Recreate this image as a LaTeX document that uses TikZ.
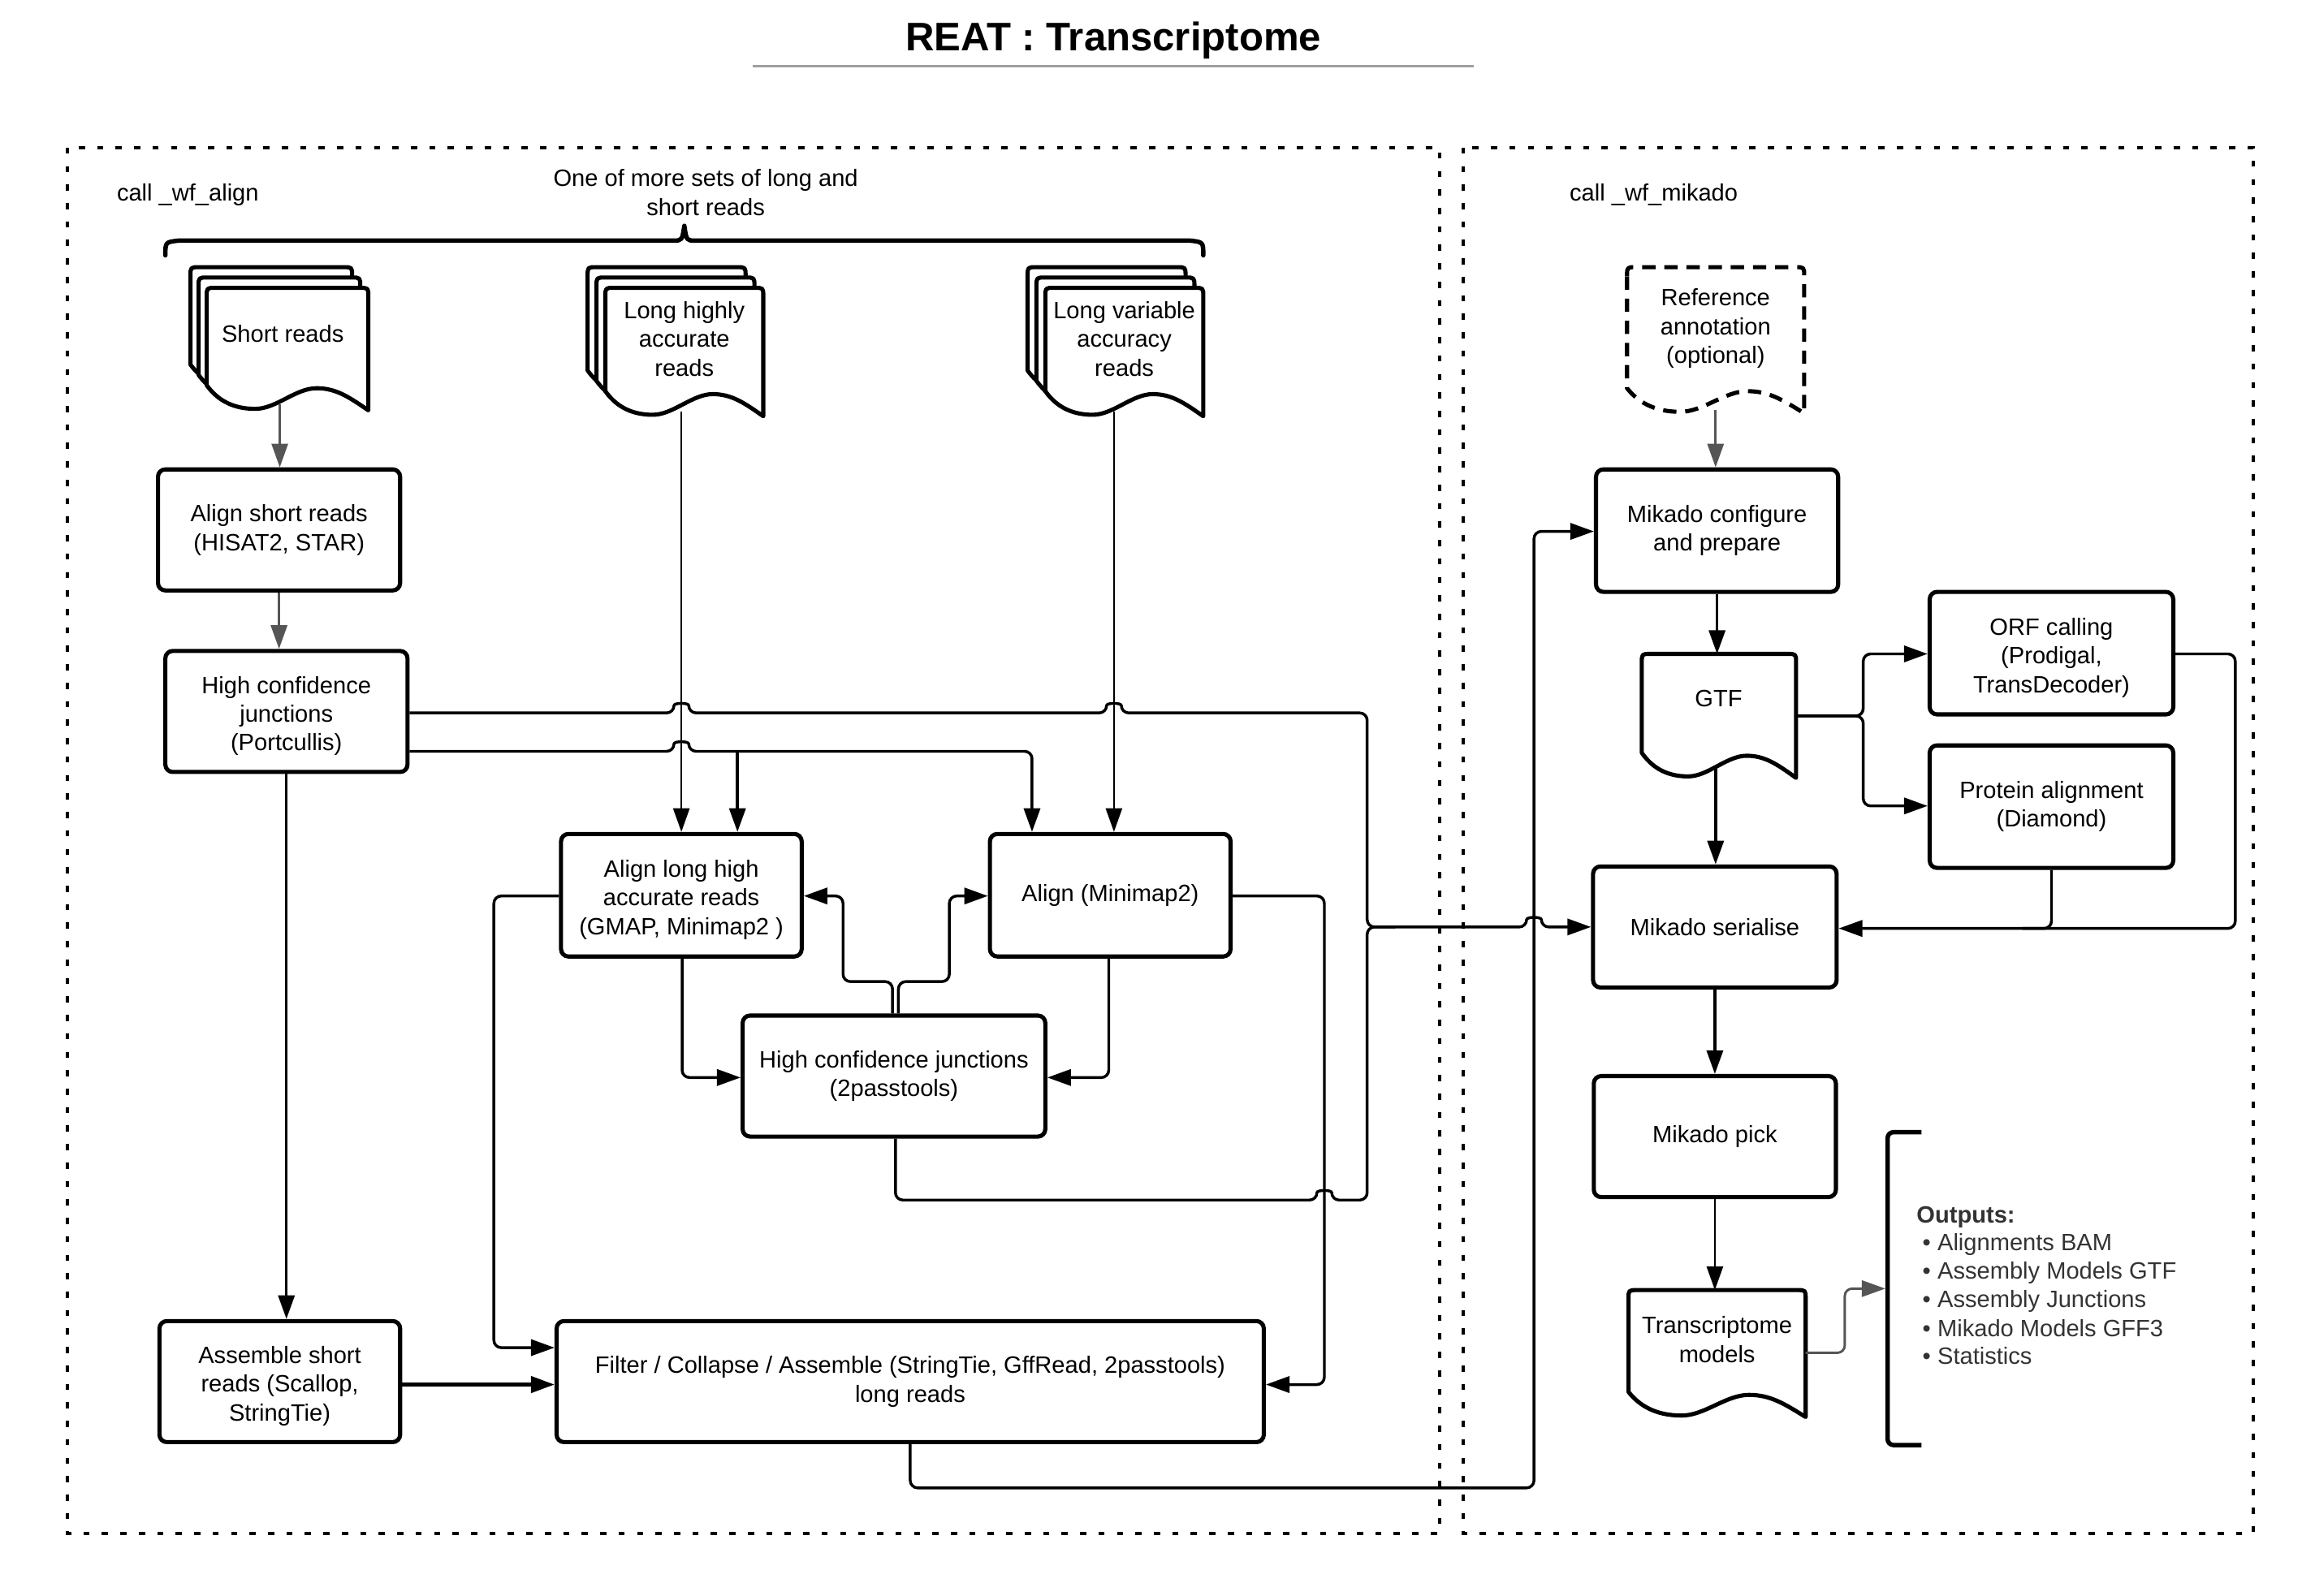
\documentclass[tikz,border=0pt]{standalone}
\usepackage{fontspec}
\setmainfont{Liberation Sans}
\usetikzlibrary{arrows.meta}
\definecolor{lgray}{HTML}{555555}
\definecolor{txtgray}{HTML}{333333}
\newcommand{\fs}{\fontsize{16}{19.5}\selectfont}
\newcommand{\tallfirst}{\rule{0pt}{17.7pt}}
% document shape: [style] L T R B
\newcommand{\docshape}[5][]{%
  \draw[docst,#1] ({#2},{#3+6}) .. controls ({#2},{#3}) .. ({#2+6},{#3}) -- ({#4-6},{#3}) .. controls ({#4},{#3}) .. ({#4},{#3+6}) -- ({#4},{#5})
   .. controls ({#4-0.12*(#4-#2)},{#5-9}) and ({#2+0.80*(#4-#2)},{#5-15}) .. ({#2+0.68*(#4-#2)},{#5-15})
   .. controls ({#2+0.55*(#4-#2)},{#5-15}) and ({#2+0.43*(#4-#2)},{#5-1}) .. ({#2+0.30*(#4-#2)},{#5-1})
   .. controls ({#2+0.15*(#4-#2)},{#5-1}) and ({#2+0.06*(#4-#2)},{#5-8}) .. ({#2},{#5-17}) -- cycle;}
\begin{document}
\begin{tikzpicture}[x=1pt,y=-1pt,font=\fs,
  box/.style={draw, line width=2.8pt, rounded corners=5pt, fill=white, align=center, inner sep=0pt},
  docst/.style={draw, line width=2.8pt, fill=white, line join=round},
  txt/.style={align=center, inner sep=0pt},
  conn/.style={line width=1.9pt, rounded corners=5pt, -{Triangle[length=16pt,width=11pt]}},
  plainline/.style={line width=1.9pt, rounded corners=5pt},
  thinl/.style={line width=1.4pt},
  gconn/.style={conn, draw=lgray, line width=1.6pt},
  border/.style={line width=2.2pt, dash pattern=on 4.2pt off 8.3pt}]
\useasboundingbox (0,0) rectangle (1568,1081);

% title
\node[inner sep=0pt] (title) at (754,27.5) {\fontsize{27}{32}\selectfont\bfseries REAT : Transcriptome};
\coordinate (ul1) at (510,45);
\coordinate (ul2) at (998,45);
\draw[gray!75, line width=1.5pt] (ul1) -- (ul2);

% dotted frames
\draw[border] (45.5,100) rectangle (975,1039);
\draw[border] (991,100) rectangle (1526,1039);
\node[anchor=west, inner sep=0pt] (lalign) at (79,132) {call \_wf\_align};
\node[anchor=west, inner sep=0pt] (lmik) at (1063,132) {call \_wf\_mikado};
\node[txt] (sets) at (478,130.5) {One of more sets of long and\\short reads};

% brace
\draw[line width=3pt, line cap=round, line join=round] (112,173) .. controls (112,164) .. (121,163) -- (456,163) .. controls (462,163) .. (463.5,153) .. controls (465,163) .. (471,163) -- (806,163) .. controls (815,164) .. (815,173);

% document stacks
\docshape{129}{181}{238.5}{264}
\docshape{134.5}{188}{244}{271}
\docshape{140}{195}{249.5}{278}
\node[txt] (sr) at (191.5,226) {Short reads};
\coordinate (srout) at (189.5,274);

\docshape{398}{181}{505}{268}
\docshape{404}{188}{511}{275}
\docshape{410}{195}{517}{282}
\node[txt] (lh) at (463.5,229.5) {Long highly\\accurate\\reads};
\coordinate (lhout) at (461.5,279);

\docshape{696}{181}{803}{268}
\docshape{702}{188}{809}{275}
\docshape{708}{195}{815}{282}
\node[txt] (lv) at (761.5,229.5) {Long variable\\accuracy\\reads};
\coordinate (lvout) at (754.5,279);

\docshape[dash pattern=on 9pt off 6pt]{1102}{181}{1222}{280}
\node[txt] (ra) at (1162,222.5) {Reference\\annotation\\(optional)};
\coordinate (raout) at (1162,278);

\docshape{1112}{443}{1216.5}{527}
\node[txt] (gtf) at (1164,473) {GTF};
\coordinate (gtfout) at (1162,520);
\coordinate (gtfr) at (1216.5,485);

\docshape{1103}{874}{1223}{960}
\node[txt] (tm) at (1163,907.5) {Transcriptome\\models};
\coordinate (tmr) at (1223,916.5);

% boxes
\node[box, minimum width=164pt, minimum height=82pt] (asr) at (189,359) {Align short reads\\(HISAT2, STAR)};
\node[box, minimum width=164pt, minimum height=82pt] (pc) at (194,482) {\tallfirst High confidence\\junctions\\(Portcullis)};
\node[box, minimum width=163pt, minimum height=82pt] (ass) at (189.5,936) {\tallfirst Assemble short\\reads (Scallop,\\StringTie)};
\node[box, minimum width=163pt, minimum height=83pt] (alh) at (461.5,606.5) {\tallfirst Align long high\\accurate reads\\(GMAP, Minimap2 )};
\node[box, minimum width=163pt, minimum height=83pt] (amm) at (752,606.5) {Align (Minimap2)};
\node[box, minimum width=205pt, minimum height=82pt] (tp) at (605.5,729) {High confidence junctions\\(2passtools)};
\node[box, minimum width=479pt, minimum height=82pt] (fca) at (616.5,936) {Filter / Collapse / Assemble (StringTie, GffRead, 2passtools)\\long reads};
\node[box, minimum width=164pt, minimum height=83pt] (mcp) at (1163,359.5) {Mikado configure\\and prepare};
\node[box, minimum width=165pt, minimum height=83pt] (orf) at (1389.5,442.5) {\tallfirst ORF calling\\(Prodigal,\\TransDecoder)};
\node[box, minimum width=165pt, minimum height=83pt] (prot) at (1389.5,546.5) {Protein alignment\\(Diamond)};
\node[box, minimum width=165pt, minimum height=82pt] (ms) at (1161.5,628) {Mikado serialise};
\node[box, minimum width=164pt, minimum height=82pt] (mp) at (1161.5,770) {Mikado pick};

% gray connectors
\draw[gconn] (srout) -- (srout |- asr.north);
\draw[gconn] (189,0 |- asr.south) -- (189,0 |- pc.north);
\draw[gconn] (raout) -- (raout |- mcp.north);
\coordinate (brk) at (1277,873);
\draw[gconn] (tmr) -- (1249.5,916.5) -- (1249.5,873) -- (brk);

% black connectors
\draw[conn, thinl] (lhout) -- (lhout |- alh.north);
\draw[conn, thinl] (lvout) -- (lvout |- amm.north);
\draw[conn] (pc.east |- 0,483) -- (456.5,483) .. controls (456.5,476) and (466.5,476) .. (466.5,483) -- (749.5,483) .. controls (749.5,476) and (759.5,476) .. (759.5,483) -- (926,483) -- (926,628) -- (1034,628) .. controls (1034,621) and (1044,621) .. (1044,628) -- (ms.west);
\draw[conn] (pc.east |- 0,509) -- (456.5,509) .. controls (456.5,502) and (466.5,502) .. (466.5,509) -- (699,509) -- (699,0 |- amm.north);
\draw[conn] (499.5,509) -- (499.5,0 |- alh.north);
\draw[conn] (194,0 |- pc.south) -- (194,0 |- ass.north);
\draw[conn] (604.5,0 |- tp.north) -- (604.5,665) -- (571,665) -- (571,607) -- (alh.east |- 0,607);
\draw[conn] (608.5,0 |- tp.north) -- (608.5,665) -- (643,665) -- (643,607) -- (amm.west |- 0,607);
\draw[conn] (462,0 |- alh.south) -- (462,730) -- (tp.west |- 0,730);
\draw[conn] (751,0 |- amm.south) -- (751,730) -- (tp.east |- 0,730);
\draw[conn] (alh.west |- 0,607) -- (334.5,607) -- (334.5,913) -- (fca.west |- 0,913);
\draw[conn] (amm.east |- 0,607) -- (897,607) -- (897,938) -- (fca.east |- 0,938);
\draw[plainline] (606.5,0 |- tp.south) -- (606.5,813) -- (892,813) .. controls (892,806) and (902,806) .. (902,813) -- (926,813) -- (926,628) -- (945,628);
\draw[conn, line width=2.5pt] (ass.east |- 0,938) -- (fca.west |- 0,938);
\draw[conn] (fca.south) -- (fca.south |- 0,1008) -- (1039,1008) -- (1039,360) -- (mcp.west |- 0,360);
\draw[conn] (mcp.south) -- (mcp.south |- 0,443);
\draw[conn] (gtfout) -- (gtfout |- ms.north);
\draw[conn] (gtfr) -- (1262,485) -- (1262,443) -- (orf.west |- 0,443);
\draw[conn] (gtfr) -- (1262,485) -- (1262,546) -- (prot.west |- 0,546);
\draw[conn] (orf.east |- 0,443) -- (1514,443) -- (1514,629) -- (ms.east |- 0,629);
\draw[plainline] (prot.south) -- (prot.south |- 0,629) -- (1370,629);
\draw[conn] (ms.south) -- (ms.south |- mp.north);
\draw[conn, thinl] (mp.south) -- (mp.south |- 0,874);

% outputs bracket and list
\draw[line width=3pt, rounded corners=4pt] (1301.5,767) -- (1278.5,767) -- (1278.5,979) -- (1301.5,979);
\node[anchor=base west, inner sep=0pt, text=txtgray] (o0) at (1298,828.5) {\bfseries Outputs:};
\node[anchor=base west, inner sep=0pt, text=txtgray] (o1) at (1302,847.5) {•\hspace{4.5pt}Alignments BAM};
\node[anchor=base west, inner sep=0pt, text=txtgray] (o2) at (1302,866.5) {•\hspace{4.5pt}Assembly Models GTF};
\node[anchor=base west, inner sep=0pt, text=txtgray] (o3) at (1302,886) {•\hspace{4.5pt}Assembly Junctions};
\node[anchor=base west, inner sep=0pt, text=txtgray] (o4) at (1302,905.5) {•\hspace{4.5pt}Mikado Models GFF3};
\node[anchor=base west, inner sep=0pt, text=txtgray] (o5) at (1302,924.5) {•\hspace{4.5pt}Statistics};
\end{tikzpicture}
\end{document}
